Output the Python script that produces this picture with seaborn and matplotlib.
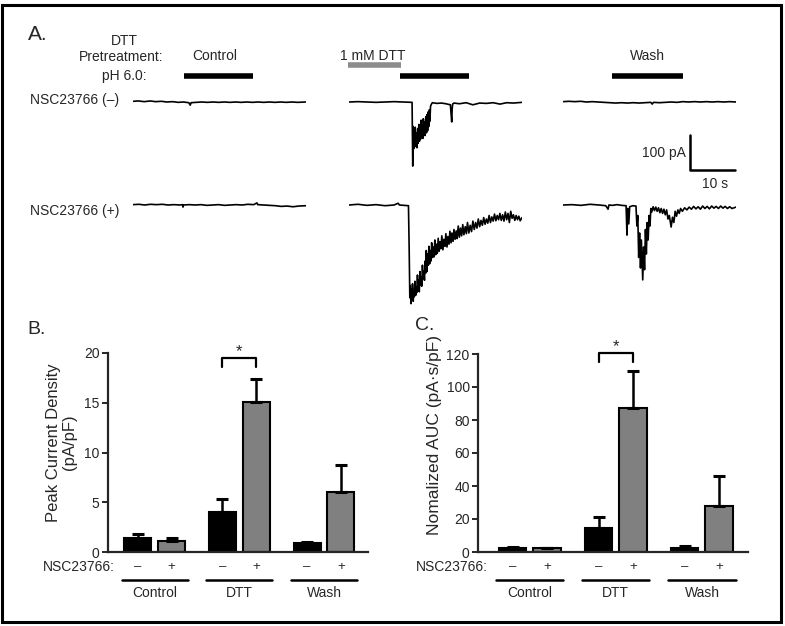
import numpy as np
import pandas as pd
import matplotlib
matplotlib.use("Agg")
import matplotlib.pyplot as plt
import seaborn as sns
from matplotlib.patches import Rectangle

sns.set_style("ticks")
plt.rcParams['font.family'] = ['Liberation Sans', 'DejaVu Sans']

W, H = 785, 626

# ---- panel A: whole-cell recordings, (time s, current pA)
ctrl_minus = [(0, 2), (1.2, 3), (2.5, 1), (3.8, 3), (5, 1), (6.3, 2), (7.5, 0), (8.8, 1),
              (10, -1), (11.2, 0), (12.4, -2), (12.7, -9), (12.9, -2), (14, -1), (15.3, 0),
              (16.5, -1), (17.8, 0), (19, -1), (20.3, 0), (21.5, -1), (22.8, 0), (24, -1),
              (25.3, 0), (26.5, -1), (27.8, 0), (29, -1), (30.3, 0), (31.5, -1), (32.8, 0),
              (34, -1), (35.3, 0), (36.5, -1), (38.4, 0)]
ctrl_plus = [(0, 1), (1.3, 2), (2.6, 0), (3.9, 2), (5.2, 1), (6.5, 2), (7.8, 0), (9.1, 1),
             (10.4, 0), (11.0, 1), (11.1, -6), (11.2, 0), (12.5, 1), (13.8, 0), (15.1, 1),
             (16.4, -1), (17.7, 0), (19, 1), (20.3, -1), (21.6, 0), (22.9, 1), (24.2, 0),
             (25.5, 2), (26.8, 1), (27.5, 6), (27.7, 1), (29, 0), (30.3, -1), (31.6, -2),
             (32.9, -4), (34.2, -3), (35.5, -5), (36.8, -3), (38.4, -2)]
dtt_minus = [(0, 0), (2, 1), (4, 0), (6, -1), (8, 0), (10, 1), (12, 0), (14.0, -1),
             (14.15, -183), (14.25, -70), (14.35, -134), (14.45, -95), (14.6, -128),
             (14.7, -72), (14.85, -122), (15.0, -88), (15.1, -131), (15.25, -76),
             (15.35, -118), (15.5, -64), (15.65, -112), (15.75, -80), (15.9, -106),
             (16.0, -52), (16.15, -100), (16.25, -66), (16.4, -104), (16.5, -48),
             (16.65, -92), (16.8, -58), (16.9, -96), (17.05, -42), (17.2, -88),
             (17.3, -36), (17.45, -82), (17.6, -28), (17.7, -70), (17.85, -22),
             (17.95, -55), (18.1, -12), (18.3, -6), (18.5, -2), (19.5, -4), (20.5, -3),
             (21.5, -5), (22.5, -8), (22.8, -57), (22.9, -20), (23.0, -6), (23.3, -3),
             (24.5, -5), (26, -2), (27.5, -8), (29, -3), (30.5, -4), (32, -2), (33.5, -6),
             (35, -2), (36.5, -3), (38.4, -1)]
dtt_plus = [(0, 0), (2, 2), (4, -1), (6, 1), (8, -2), (10, 0), (10.9, 5), (11.2, 0),
            (13.2, -2), (13.35, -120), (13.5, -265), (13.6, -230), (13.75, -282),
            (13.85, -240), (14.0, -270), (14.1, -225), (14.25, -275), (14.4, -245),
            (14.5, -262), (14.65, -218), (14.8, -258), (14.9, -235), (15.05, -250),
            (15.2, -200), (15.3, -240), (15.45, -215), (15.6, -248), (15.75, -190),
            (15.9, -228), (16.0, -205), (16.15, -232), (16.3, -172), (16.45, -210),
            (16.6, -188), (16.75, -215), (16.9, -160), (17.0, -195), (17.15, -130),
            (17.3, -190), (17.45, -140), (17.6, -172), (17.75, -118), (17.9, -168),
            (18.05, -130), (18.2, -160), (18.35, -108), (18.55, -150), (18.7, -120),
            (18.9, -148), (19.05, -100), (19.25, -142), (19.4, -112), (19.6, -138),
            (19.8, -95), (20.0, -132), (20.2, -105), (20.4, -125), (20.6, -88),
            (20.85, -128), (21.05, -98), (21.3, -118), (21.5, -82), (21.75, -120),
            (21.95, -90), (22.2, -112), (22.4, -75), (22.65, -108), (22.85, -80),
            (23.1, -104), (23.3, -70), (23.55, -98), (23.8, -74), (24.0, -96), (24.25, -60),
            (24.5, -92), (24.75, -66), (25.0, -88), (25.25, -56), (25.5, -85), (25.8, -62),
            (26.05, -82), (26.3, -50), (26.6, -80), (26.9, -58), (27.2, -76), (27.5, -46),
            (27.8, -70), (28.1, -50), (28.4, -66), (28.7, -40), (29.0, -62), (29.3, -44),
            (29.6, -58), (29.9, -36), (30.2, -55), (30.5, -40), (30.8, -52), (31.1, -30),
            (31.4, -50), (31.7, -34), (32.0, -46), (32.3, -26), (32.6, -45), (32.9, -30),
            (33.2, -42), (33.5, -24), (33.8, -44), (34.1, -28), (34.4, -46), (34.7, -20),
            (35.0, -42), (35.3, -24), (35.6, -50), (35.9, -18), (36.2, -38), (36.5, -28),
            (36.8, -44), (37.1, -30), (37.4, -42), (37.7, -32), (38.0, -45), (38.4, -36)]
wash_minus = [(0, 1), (1.3, 2), (2.6, 1), (3.9, 2), (5.2, 0), (6.5, 1), (7.8, 0), (9.1, -1),
              (10.4, -2), (11.7, -3), (13, -2), (14.3, -3), (15.6, -2), (16.9, -3),
              (18.2, -2), (19.5, -1), (19.8, -6), (20.1, -1), (21.4, -2), (22.7, -1), (24, 0),
              (25.3, -1), (26.6, 1), (27.9, 0), (29.2, 1), (30.5, 0), (31.8, 1), (33.1, 0),
              (34.4, 1), (35.7, 0), (37, 1), (38.4, 0)]
wash_plus = [(0, 0), (2, 1), (4, -1), (6, 2), (8, 0), (9.5, -2), (10, -12), (10.2, 0),
             (11, -1), (12, 1), (13, -1), (14.0, -2), (14.2, -86), (14.35, -10), (14.6, -54),
             (14.8, -5), (15.5, -2), (16.2, -3), (16.4, -60), (16.6, -30), (16.8, -150),
             (17.0, -80), (17.2, -180), (17.4, -100), (17.7, -214), (17.9, -120),
             (18.1, -185), (18.3, -70), (18.5, -140), (18.7, -50), (18.9, -100), (19.1, -30),
             (19.3, -60), (19.5, -10), (19.7, -20), (20.0, -5), (20.3, -16), (20.6, -6),
             (20.9, -18), (21.2, -8), (21.5, -22), (21.8, -10), (22.1, -24), (22.4, -12),
             (22.7, -28), (23.0, -14), (23.3, -40), (23.6, -30), (24.0, -63), (24.3, -35),
             (24.6, -50), (24.9, -18), (25.2, -32), (25.5, -14), (25.8, -24), (26.1, -10),
             (26.5, -18), (27, -8), (27.5, -14), (28, -6), (28.5, -12), (29, -4), (29.5, -11),
             (30, -5), (30.5, -12), (31, -3), (31.5, -10), (32, -4), (32.5, -11), (33, -3),
             (33.5, -9), (34, -4), (34.5, -10), (35, -3), (35.5, -9), (36, -4), (36.5, -10),
             (37, -5), (37.5, -10), (38.4, -6)]

traces = [[ctrl_minus, dtt_minus, wash_minus],
          [ctrl_plus, dtt_plus, wash_plus]]

# pH 6.0 application (s) and DTT pretreatment (s)
ph_on = [(11.3, 26.7), (11.3, 26.7), (10.9, 26.7)]
dtt_on = (-0.2, 11.5)

# ---- panels B and C
groups = ["Control", "DTT", "Wash"]
nsc = ["–", "+"]
peak_mean = [1.45, 1.1, 4.05, 15.1, 0.9, 6.05]
peak_err = [0.4, 0.28, 1.25, 2.3, 0.15, 2.7]
auc_mean = [2.2, 2.2, 14.5, 87, 2.2, 28]
auc_err = [0.6, 0.5, 6.7, 23, 1.6, 18]

fig = plt.figure(figsize=(W / 100, H / 100), dpi=100)


def px_axes(left, top, width, height):
    return fig.add_axes([left / W, 1 - (top + height) / H, width / W, height / H])


def px_text(x, y, s, **kw):
    kw.setdefault("fontsize", 10)
    kw.setdefault("va", "center")
    fig.text(x / W, 1 - y / H, s, **kw)


# traces: 4.5 px per s, 0.35 px per pA
col_x = [133, 349, 563]
row_base = [102, 205]
trace_axes = {}
for r in range(2):
    for c in range(3):
        ax = px_axes(col_x[c], row_base[r] - 7, 173, 112)
        d = np.array(traces[r][c])
        sns.lineplot(x=d[:, 0], y=d[:, 1], ax=ax, color="black", lw=1.2,
                     estimator=None, sort=False)
        ax.set_xlim(0, 38.4)
        ax.set_ylim(-300, 20)
        ax.axis("off")
        trace_axes[(r, c)] = ax

for c in range(3):
    ax = trace_axes[(0, c)]
    ax.plot(ph_on[c], [75, 75], color="black", lw=4, solid_capstyle="butt", clip_on=False)
ax = trace_axes[(0, 1)]
ax.plot(dtt_on, [106, 106], color="#8c8c8c", lw=4, solid_capstyle="butt", clip_on=False)

# scale bar: 10 s, 100 pA
ax = trace_axes[(0, 2)]
ax.plot([28.2, 28.2, 38.2], [-94, -194, -194], color="black", lw=1.8, clip_on=False)

px_text(28, 35, "A.", fontsize=15)
px_text(124, 41, "DTT", ha="center")
px_text(163, 57, "Pretreatment:", ha="right")
px_text(147, 76, "pH 6.0:", ha="right")
px_text(215, 56, "Control", ha="center")
px_text(340, 56, "1 mM DTT", ha="left")
px_text(647, 56, "Wash", ha="center")
px_text(30, 100, "NSC23766 (–)", ha="left")
px_text(30, 211, "NSC23766 (+)", ha="left")
px_text(686, 153, "100 pA", ha="right")
px_text(715, 184, "10 s", ha="center")


def bar_panel(ax, mean, err, xlim, ylim, yticks, ylabel, label_x, label_y, label_fs,
              bracket, star_y):
    df = pd.DataFrame({"group": np.repeat(groups, 2), "nsc": nsc * 3, "value": mean})
    sns.barplot(data=df, x="group", y="value", hue="nsc", order=groups, hue_order=nsc,
                palette=["black", "#808080"], edgecolor="black", linewidth=1.5,
                gap=0.2, errorbar=None, legend=False, ax=ax)
    bars = sorted(ax.patches, key=lambda p: p.get_x())
    centers = [p.get_x() + p.get_width() / 2 for p in bars]
    ax.errorbar(centers, mean, yerr=[np.zeros(len(err)), err], fmt="none",
                ecolor="black", elinewidth=1.8, capsize=4, capthick=2.2, zorder=3)
    ax.set_xlim(*xlim)
    ax.set_ylim(*ylim)
    ax.set_yticks(yticks)
    ax.set_xticks([])
    ax.set_xlabel("")
    ax.set_ylabel(ylabel, fontsize=label_fs, linespacing=1.1)
    ax.yaxis.set_label_coords(label_x, label_y)
    sns.despine(ax=ax)
    for s in ["left", "bottom"]:
        ax.spines[s].set_linewidth(1.6)
    ax.tick_params(axis="y", length=4, width=1.4, labelsize=10, pad=2)
    tr = ax.get_xaxis_transform()
    for cx, s in zip(centers, nsc * 3):
        ax.text(cx, -0.075, s, transform=tr, ha="center", va="center", fontsize=9.5)
    for g, name in enumerate(groups):
        ax.plot([g - 0.39, g + 0.39], [-0.141, -0.141], transform=tr, color="black",
                lw=1.8, clip_on=False)
        ax.text(g, -0.207, name, transform=tr, ha="center", va="center", fontsize=10)
    x0, x1 = centers[2], centers[3]
    top, leg = bracket
    ax.plot([x0, x0, x1, x1], [leg, top, top, leg], color="black", lw=1.6, clip_on=False)
    ax.text((x0 + x1) / 2, star_y, "*", ha="center", va="center", fontsize=12)


axB = px_axes(108, 353, 260, 199)
bar_panel(axB, peak_mean, peak_err, (-0.553, 2.52), (0, 20), [0, 5, 10, 15, 20],
          "Peak Current Density\n(pA/pF)", -0.119, 0.55, 12, (19.5, 18.6), 20.1)
axC = px_axes(478, 354, 270, 198)
bar_panel(axC, auc_mean, auc_err, (-0.601, 2.535), (0, 120), [0, 20, 40, 60, 80, 100, 120],
          "Nomalized AUC (pA·s/pF)", -0.133, 0.59, 12.5, (120.6, 115), 124.5)

px_text(27, 330, "B.", fontsize=14)
px_text(415, 325, "C.", fontsize=14)
px_text(115, 567, "NSC23766:", ha="right")
px_text(488, 567, "NSC23766:", ha="right")

# frame around the whole figure
fig.patches.append(Rectangle((1.5 / W, 4.5 / H), 779 / W, 617 / H, transform=fig.transFigure,
                             fill=False, edgecolor="black", lw=2.2))

fig.savefig("out.png", dpi=100)
